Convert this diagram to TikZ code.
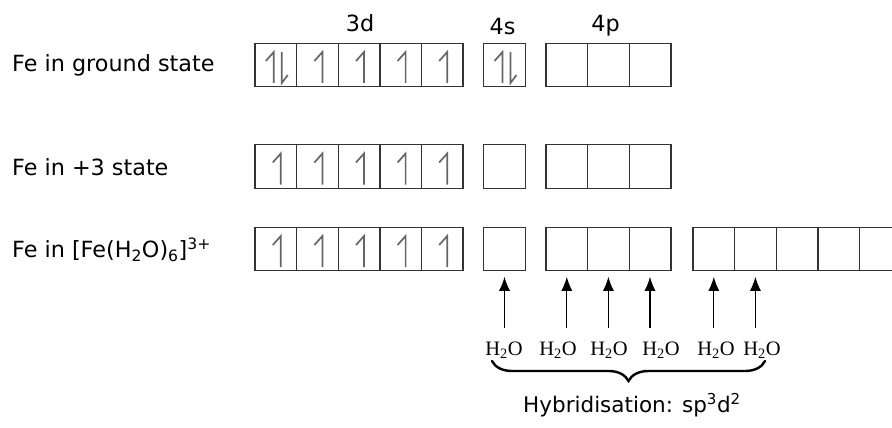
\documentclass[tikz,border=0pt]{standalone}
\usepackage{fontspec}
\setmainfont{DejaVu Sans}
\newfontfamily\serifh{Liberation Serif}
\usetikzlibrary{arrows.meta,decorations.pathreplacing}

\tikzset{
  orb/.style={draw=black!80,line width=1.4pt,minimum width=41.6pt,minimum height=43.5pt,inner sep=0pt,outer sep=0pt},
  spin/.style={draw=black!60,line width=1.7pt},
  lig/.style={line width=1.3pt,-{Latex[length=14pt,width=11pt]}},
  txt/.style={font=\fontsize{21.5}{26}\selectfont,inner sep=0pt},
  rowtxt/.style={font=\fontsize{22.3}{26}\selectfont,inner sep=0pt},
  wat/.style={font=\serifh\fontsize{20.5}{24}\selectfont,inner sep=0pt},
}
\newcommand{\spinup}[1]{\draw[spin] (#1) ++(5,18) -- ++(0,-31) -- ++(-8,9);}
\newcommand{\spinpair}[1]{\draw[spin] (#1) ++(-2,18) -- ++(0,-31) -- ++(-8,9);
  \draw[spin] (#1) ++(6,-13) -- ++(0,31) -- ++(6,-8);}

\begin{document}
\begin{tikzpicture}[x=1pt,y=-1pt]
\useasboundingbox (0,0) rectangle (892,428);
\node[rowtxt,anchor=base west] (lg) at (12,72) {Fe in ground state};
\node[rowtxt,anchor=base west] (lt) at (12,175) {Fe in +3 state};
\node[rowtxt,anchor=base west] (lc) at (12,257) {Fe in [Fe(H\textsubscript{2}O)\textsubscript{6}]\textsuperscript{3+}};
\node[rowtxt,anchor=base] (n3d) at (360,32) {3d};
\node[rowtxt,anchor=base] (n4s) at (502.5,35) {4s};
\node[rowtxt,anchor=base] (n4p) at (605.5,32) {4p};
\node[orb] (g1) at (275.8,65) {};
\node[orb] (g2) at (317.4,65) {};
\node[orb] (g3) at (359.0,65) {};
\node[orb] (g4) at (400.6,65) {};
\node[orb] (g5) at (442.2,65) {};
\node[orb] (gs) at (504.5,65) {};
\node[orb] (gp1) at (566.8,65) {};
\node[orb] (gp2) at (608.4,65) {};
\node[orb] (gp3) at (650.0,65) {};
\node[orb] (t1) at (275.8,166.5) {};
\node[orb] (t2) at (317.4,166.5) {};
\node[orb] (t3) at (359.0,166.5) {};
\node[orb] (t4) at (400.6,166.5) {};
\node[orb] (t5) at (442.2,166.5) {};
\node[orb] (ts) at (504.5,166.5) {};
\node[orb] (tp1) at (566.8,166.5) {};
\node[orb] (tp2) at (608.4,166.5) {};
\node[orb] (tp3) at (650.0,166.5) {};
\node[orb] (c1) at (275.8,249) {};
\node[orb] (c2) at (317.4,249) {};
\node[orb] (c3) at (359.0,249) {};
\node[orb] (c4) at (400.6,249) {};
\node[orb] (c5) at (442.2,249) {};
\node[orb] (cs) at (504.5,249) {};
\node[orb] (cp1) at (566.8,249) {};
\node[orb] (cp2) at (608.4,249) {};
\node[orb] (cp3) at (650.0,249) {};
\node[orb] (cd1) at (713.8,249) {};
\node[orb] (cd2) at (755.4,249) {};
\node[orb] (cd3) at (797.0,249) {};
\node[orb] (cd4) at (838.6,249) {};
\node[orb] (cd5) at (880.2,249) {};
\spinpair{g1}
\spinup{g2}
\spinup{g3}
\spinup{g4}
\spinup{g5}
\spinpair{gs}
\spinup{t1}
\spinup{t2}
\spinup{t3}
\spinup{t4}
\spinup{t5}
\spinup{c1}
\spinup{c2}
\spinup{c3}
\spinup{c4}
\spinup{c5}
\node[wat,anchor=base] (w1) at (504,355) {H\textsubscript{2}O};
\node[wat,anchor=base] (w2) at (558,355) {H\textsubscript{2}O};
\node[wat,anchor=base] (w3) at (609,355) {H\textsubscript{2}O};
\node[wat,anchor=base] (w4) at (661,355) {H\textsubscript{2}O};
\node[wat,anchor=base] (w5) at (716,355) {H\textsubscript{2}O};
\node[wat,anchor=base] (w6) at (762,355) {H\textsubscript{2}O};
\draw[lig] ([yshift=-57pt]cs.south) -- ([yshift=-6pt]cs.south);
\draw[lig] ([yshift=-57pt]cp1.south) -- ([yshift=-6pt]cp1.south);
\draw[lig] ([yshift=-57pt]cp2.south) -- ([yshift=-6pt]cp2.south);
\draw[lig] ([yshift=-57pt]cp3.south) -- ([yshift=-6pt]cp3.south);
\draw[lig] ([yshift=-57pt]cd1.south) -- ([yshift=-6pt]cd1.south);
\draw[lig] ([yshift=-57pt]cd2.south) -- ([yshift=-6pt]cd2.south);
\draw[line width=2.4pt,line cap=round,decorate,decoration={brace,mirror,amplitude=20pt}] (492,361) -- (765,361);
\node[txt,anchor=base] (hyb) at (632,412) {Hybridisation: sp\textsuperscript{3}d\textsuperscript{2}};
\end{tikzpicture}
\end{document}
